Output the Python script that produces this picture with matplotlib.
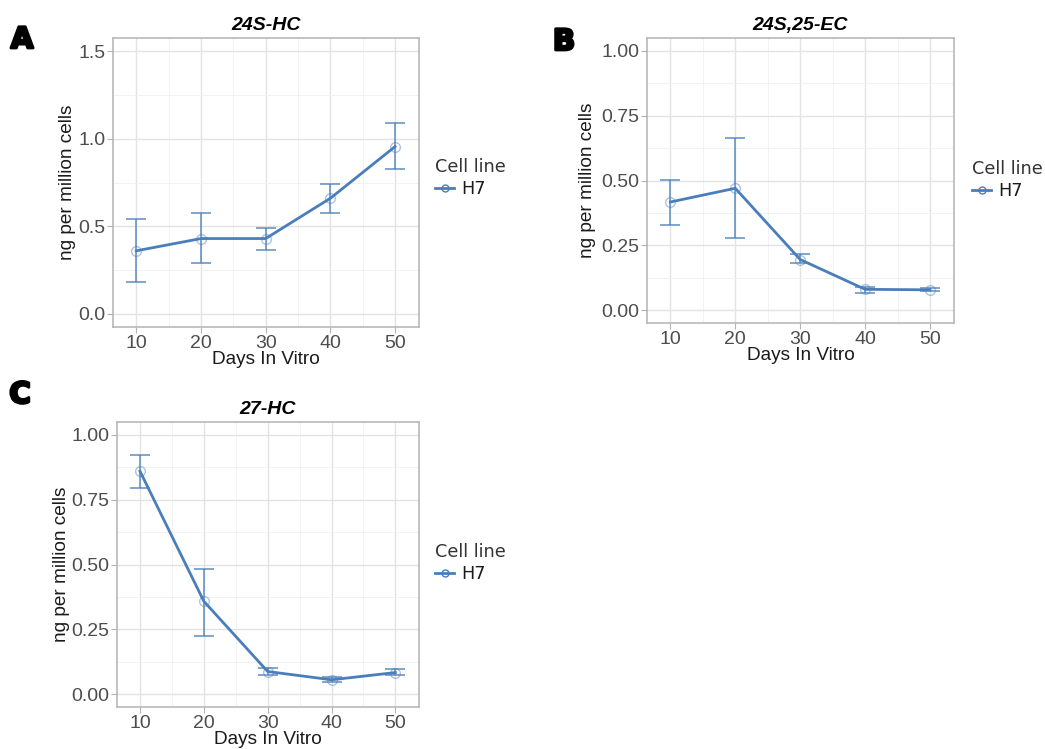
import numpy as np
import matplotlib
matplotlib.use("Agg")
import matplotlib.pyplot as plt
import matplotlib.patheffects as pe
from matplotlib.ticker import MultipleLocator

plt.rcParams["font.family"] = ["Liberation Sans", "DejaVu Sans"]

# datos
dias = [10, 20, 30, 40, 50]

hc24_media = [0.36, 0.43, 0.43, 0.66, 0.955]
hc24_inf = [0.18, 0.29, 0.367, 0.578, 0.827]
hc24_sup = [0.54, 0.574, 0.49, 0.743, 1.088]

ec_media = [0.417, 0.47, 0.195, 0.08, 0.078]
ec_inf = [0.329, 0.277, 0.18, 0.067, 0.072]
ec_sup = [0.503, 0.664, 0.218, 0.09, 0.085]

hc27_media = [0.86, 0.358, 0.087, 0.055, 0.083]
hc27_inf = [0.796, 0.225, 0.073, 0.047, 0.072]
hc27_sup = [0.922, 0.484, 0.102, 0.064, 0.096]

color = "#4A7EBB"
gris = "#4D4D4D"

W, H = 1045, 749
fig = plt.figure(figsize=(W / 100, H / 100), dpi=100)


def caja(left, top, right, bottom):
    return [left / W, 1 - bottom / H, (right - left) / W, (bottom - top) / H]


def panel(rect, titulo, media, inf, sup, ylim, yticks, fmt, ylab_x, xlab_y, leg_xy):
    ax = fig.add_axes(caja(*rect))
    err = [np.array(media) - np.array(inf), np.array(sup) - np.array(media)]
    ax.errorbar(dias, media, yerr=err, fmt="none", ecolor=color, alpha=0.75,
                elinewidth=1.3, capsize=7, capthick=1.3, zorder=3)
    ax.plot(dias, media, color=color, lw=2, zorder=4)
    ax.plot(dias, media, "o", mfc="none", mec=color, ms=7, alpha=0.45, zorder=5)
    ax.set_xlim(6.4, 53.7)
    ax.set_ylim(*ylim)
    ax.set_xticks(dias)
    ax.xaxis.set_minor_locator(MultipleLocator(5))
    ax.set_yticks(yticks)
    ax.set_yticklabels([fmt.format(v) for v in yticks])
    ax.yaxis.set_minor_locator(MultipleLocator((yticks[1] - yticks[0]) / 2))
    ax.grid(True, which="major", color="#E3E3E3", lw=1.0)
    ax.grid(True, which="minor", color="#F0F0F0", lw=0.6)
    ax.set_axisbelow(True)
    for s in ax.spines.values():
        s.set_color("#B3B3B3")
        s.set_linewidth(1.1)
    ax.tick_params(which="major", colors="#B3B3B3", labelcolor=gris, labelsize=14,
                   length=4, pad=1.5)
    ax.tick_params(which="minor", length=0)
    ax.set_title(titulo, fontsize=14, fontweight="bold", style="italic", pad=6)
    fig.text(ylab_x / W, 1 - (rect[1] + rect[3]) / 2 / H, "ng per million cells",
             rotation=90, ha="center", va="center", fontsize=13.7, color="#1A1A1A")
    fig.text((rect[0] + rect[2]) / 2 / W, 1 - xlab_y / H, "Days In Vitro",
             ha="center", va="center", fontsize=13.7, color="#1A1A1A")
    ax.plot([], [], color=color, lw=2, marker="o", mfc="none", ms=5,
            markevery=[0], label="H7")
    leg = ax.legend(loc="center left", bbox_to_anchor=(leg_xy[0] / W, 1 - leg_xy[1] / H),
                    bbox_transform=fig.transFigure, title="Cell line", frameon=False,
                    prop={"family": "DejaVu Sans", "size": 12.7},
                    title_fontproperties={"family": "DejaVu Sans", "size": 12.7},
                    handlelength=1.1, handletextpad=0.4, alignment="left",
                    borderaxespad=0, borderpad=0, labelspacing=0.2)
    leg.get_title().set_color("#333333")
    for t in leg.get_texts():
        t.set_color("#1A1A1A")
    return ax


panel((113, 38, 419, 327), "24S-HC", hc24_media, hc24_inf, hc24_sup,
      (-0.075, 1.575), [0.0, 0.5, 1.0, 1.5], "{:.1f}", 67, 359, (435, 178))
panel((647, 38, 954, 323), "24S,25-EC", ec_media, ec_inf, ec_sup,
      (-0.05, 1.05), [0.0, 0.25, 0.5, 0.75, 1.0], "{:.2f}", 588, 355, (972, 180))
panel((117, 422, 419, 707), "27-HC", hc27_media, hc27_inf, hc27_sup,
      (-0.05, 1.05), [0.0, 0.25, 0.5, 0.75, 1.0], "{:.2f}", 62, 740, (435, 563))

# letras de panel, engrosadas con un trazo
for letra, x, y in [("A", 22, 40), ("B", 564, 42), ("C", 20, 395)]:
    fig.text(x / W, 1 - y / H, letra, ha="center", va="center",
             fontsize=21, fontweight="heavy", family="DejaVu Sans",
             path_effects=[pe.withStroke(linewidth=2, foreground="black")])

fig.savefig("out.png", dpi=100)
